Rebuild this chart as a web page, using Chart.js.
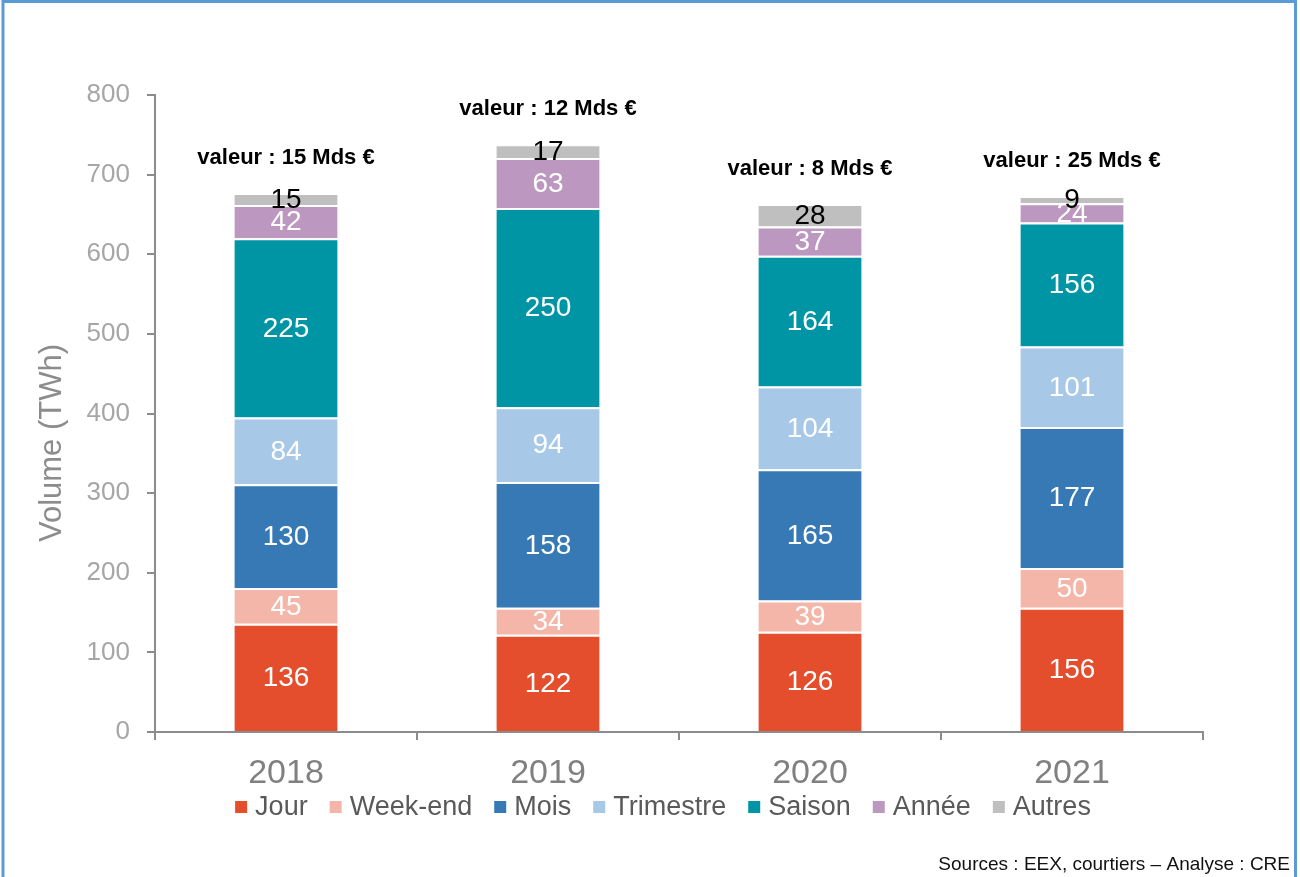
<!DOCTYPE html>
<html>
<head>
<meta charset="utf-8">
<script src="https://cdn.jsdelivr.net/npm/chart.js@4.4.1/dist/chart.umd.min.js"></script>
<style>
  html, body { margin: 0; padding: 0; background: #fff; }
  #wrap { width: 1300px; height: 877px; position: relative; }
</style>
</head>
<body>
<div id="wrap"><canvas id="volChart" width="1300" height="877"></canvas></div>
<script>
// Volumes échangés par type de produit (TWh)
const years = ['2018', '2019', '2020', '2021'];
const jour      = [136, 122, 126, 156];
const weekEnd   = [45, 34, 39, 50];
const mois      = [130, 158, 165, 177];
const trimestre = [84, 94, 104, 101];
const saison    = [225, 250, 164, 156];
const annee     = [42, 63, 37, 24];
const autres    = [15, 17, 28, 9];
// valeur des échanges (Mds €)
const valeurs   = [15, 12, 8, 25];
const yTicks    = [0, 100, 200, 300, 400, 500, 600, 700, 800];

const SANS = '"Liberation Sans", Arial, sans-serif';

function ds(label, data, color, labelColor) {
  return {
    label: label,
    data: data,
    backgroundColor: color,
    borderColor: '#ffffff',
    borderWidth: { top: 2, left: 0, right: 0, bottom: 0 },
    borderSkipped: false,
    labelColor: labelColor || '#ffffff'
  };
}

// valeurs dans les segments + "valeur : X Mds €" au-dessus des piles
const barLabels = {
  id: 'barLabels',
  afterDatasetsDraw(chart) {
    const ctx = chart.ctx;
    ctx.save();
    ctx.textAlign = 'center';
    ctx.textBaseline = 'middle';
    ctx.font = '28px ' + SANS;
    chart.data.datasets.forEach((d, i) => {
      const meta = chart.getDatasetMeta(i);
      meta.data.forEach((bar, j) => {
        const p = bar.getProps(['x', 'y', 'base'], true);
        ctx.fillStyle = d.labelColor;
        ctx.fillText(String(d.data[j]), p.x, (p.y + p.base) / 2 + 1);
      });
    });
    const last = chart.getDatasetMeta(chart.data.datasets.length - 1);
    ctx.fillStyle = '#000';
    ctx.font = 'bold 22px ' + SANS;
    last.data.forEach((bar, j) => {
      const p = bar.getProps(['x', 'y'], true);
      ctx.fillText('valeur : ' + valeurs[j] + ' Mds €', p.x, p.y - 35);
    });
    ctx.restore();
  }
};

// légende, titre de l'axe, cadre bleu et sources
const decor = {
  id: 'decor',
  afterDraw(chart) {
    const ctx = chart.ctx;
    ctx.save();

    // légende centrée sous les années
    ctx.font = '27px ' + SANS;
    ctx.textBaseline = 'middle';
    ctx.textAlign = 'left';
    const box = 12, gap = 8, spacing = 22, legendY = 807;
    const items = chart.data.datasets.map(d => ({
      label: d.label, color: d.backgroundColor, w: ctx.measureText(d.label).width
    }));
    const total = items.reduce((s, it) => s + box + gap + it.w, 0) + spacing * (items.length - 1);
    let x = 663 - total / 2;
    items.forEach(it => {
      ctx.fillStyle = it.color;
      ctx.fillRect(x, legendY - box / 2, box, box);
      ctx.fillStyle = '#595959';
      ctx.fillText(it.label, x + box + gap, legendY + 1);
      x += box + gap + it.w + spacing;
    });

    // titre de l'axe vertical
    ctx.save();
    ctx.translate(52, 443);
    ctx.rotate(-Math.PI / 2);
    ctx.textAlign = 'center';
    ctx.fillStyle = '#8c8c8c';
    ctx.font = '31px ' + SANS;
    ctx.fillText('Volume (TWh)', 0, 0);
    ctx.restore();

    // cadre
    ctx.strokeStyle = '#5b9bd5';
    ctx.lineWidth = 3;
    ctx.beginPath();
    ctx.moveTo(3, 877);
    ctx.lineTo(3, 1.5);
    ctx.lineTo(1295.5, 1.5);
    ctx.lineTo(1295.5, 877);
    ctx.stroke();

    ctx.fillStyle = '#111';
    ctx.font = '19px ' + SANS;
    ctx.textAlign = 'right';
    ctx.textBaseline = 'alphabetic';
    ctx.fillText('Sources : EEX, courtiers – Analyse : CRE', 1290, 870);
    ctx.restore();
  }
};

new Chart(document.getElementById('volChart'), {
  type: 'bar',
  data: {
    labels: years,
    datasets: [
      ds('Jour', jour, '#e54e2d'),
      ds('Week-end', weekEnd, '#f4b6a9'),
      ds('Mois', mois, '#3679b5'),
      ds('Trimestre', trimestre, '#a7c8e6'),
      ds('Saison', saison, '#0095a4'),
      ds('Année', annee, '#bc98c0'),
      ds('Autres', autres, '#bfbfbf', '#000000')
    ]
  },
  options: {
    responsive: false,
    animation: false,
    layout: { padding: { left: 10, right: 97, top: 95, bottom: 87 } },
    datasets: { bar: { categoryPercentage: 1, barPercentage: 0.394 } },
    plugins: {
      tooltip: { enabled: false },
      legend: { display: false }
    },
    scales: {
      x: {
        stacked: true,
        afterFit(scale) { scale.height = 58; },
        border: { color: '#8c8c8c', width: 2 },
        grid: { drawOnChartArea: false, tickLength: 8, color: '#8c8c8c', lineWidth: 2 },
        ticks: { color: '#808080', padding: 13, font: { size: 34, family: SANS } }
      },
      y: {
        stacked: true,
        min: 0,
        max: 800,
        afterFit(scale) { scale.width = 145; },
        afterBuildTicks(scale) { scale.ticks = yTicks.map(v => ({ value: v })); },
        border: { color: '#8c8c8c', width: 2 },
        grid: { drawOnChartArea: false, tickLength: 8, color: '#8c8c8c', lineWidth: 2 },
        ticks: { color: '#a6a6a6', padding: 17, font: { size: 26, family: SANS } }
      }
    }
  },
  plugins: [barLabels, decor]
});
</script>
</body>
</html>
